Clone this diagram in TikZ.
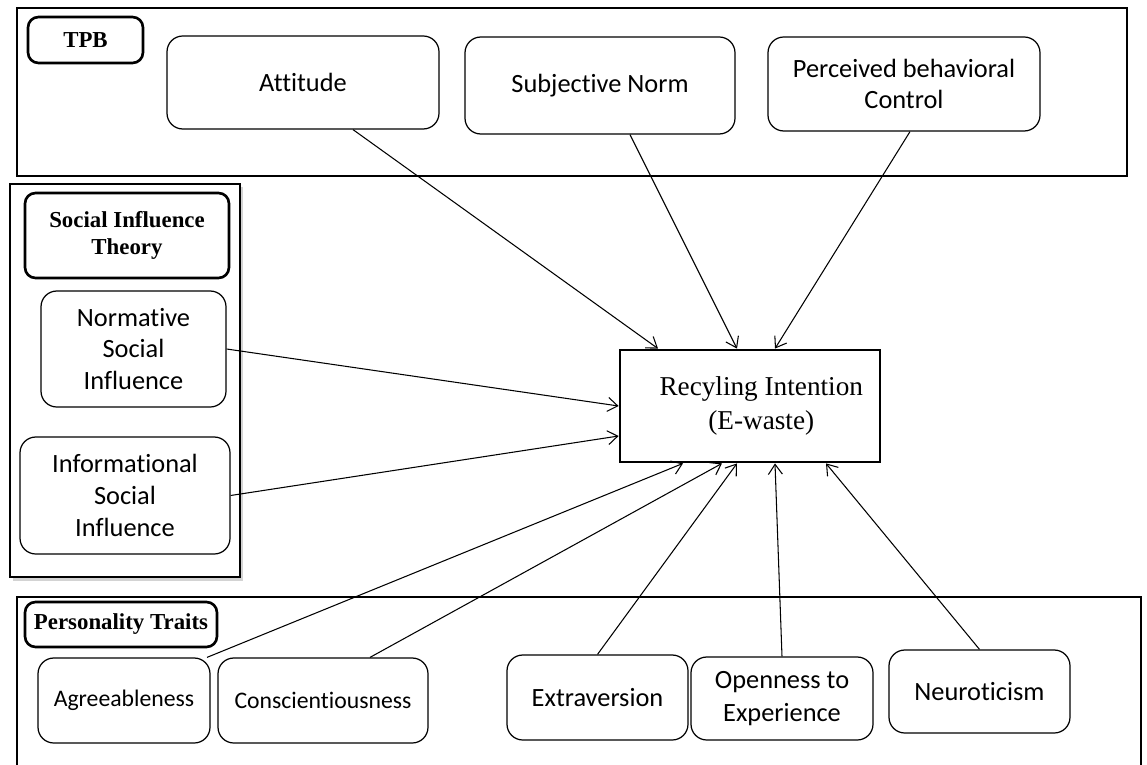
\documentclass[tikz,border=0pt]{standalone}
\usepackage{fontspec}
\setmainfont{Liberation Serif}
\newfontfamily\calibri[Ligatures=NoCommon]{Carlito}
\usetikzlibrary{arrows.meta,shadows}

\begin{document}
\begin{tikzpicture}[
    frame/.style={draw, line width=1.6pt},
    tag/.style={draw, line width=1.5pt, rounded corners=6pt, font=\bfseries\fontsize{13}{15}\selectfont, align=center, inner sep=0pt},
    item/.style={draw, line width=0.7pt, rounded corners=9pt, font=\calibri\fontsize{15}{18}\selectfont, align=center, inner sep=0pt},
    link/.style={line width=0.6pt, -{Straight Barb[length=2mm,width=2.8mm]}}
]
    \useasboundingbox (0,0) rectangle (22.94,-15.3);

    % TPB block
    \draw[frame] (0.34,-0.16) rectangle (22.54,-3.52);
    \node[tag, minimum width=2.3cm, minimum height=0.92cm] (tpb) at (1.71,-0.8) {TPB};
    \node[item, minimum width=5.44cm, minimum height=1.86cm] (att) at (6.06,-1.65) {Attitude};
    \node[item, minimum width=5.4cm, minimum height=1.94cm] (sn) at (12.0,-1.71) {Subjective Norm};
    \node[item, minimum width=5.44cm, minimum height=1.88cm] (pbc) at (18.08,-1.68) {Perceived behavioral\\Control};

    % Social influence block
    \draw[frame, fill=white, drop shadow={shadow xshift=0.05cm, shadow yshift=-0.07cm, opacity=0.35}] (0.2,-3.68) rectangle (4.8,-11.54);
    \node[tag, minimum width=4.08cm, minimum height=1.7cm] (sit) at (2.54,-4.71) {Social Influence\\Theory};
    \node[item, minimum width=3.7cm, minimum height=2.32cm] (nsi) at (2.67,-6.98) {Normative\\Social\\Influence};
    \node[item, minimum width=4.2cm, minimum height=2.34cm] (isi) at (2.5,-9.91) {Informational\\Social\\Influence};

    % Outcome
    \node[draw, line width=1.6pt, minimum width=5.2cm, minimum height=2.24cm, align=center,
          font=\fontsize{15.5}{19}\selectfont] (rec) at (15.0,-8.12) {\hspace*{0.45cm}Recyling Intention\\\hspace*{0.45cm}(E-waste)};

    % Personality traits block
    \draw[frame] (0.34,-15.4) -- (0.34,-11.94) -- (22.82,-11.94) -- (22.82,-15.4);
    \node[tag, minimum width=3.84cm, minimum height=0.9cm] (pt) at (2.42,-12.49) {Personality Traits};
    \node[item, minimum width=3.44cm, minimum height=1.7cm, font=\calibri\fontsize{13.5}{16}\selectfont] (agr) at (2.48,-14.01) {Agreeableness};
    \node[item, minimum width=4.2cm, minimum height=1.7cm, font=\calibri\fontsize{13.5}{16}\selectfont] (con) at (6.46,-14.01) {Conscientiousness};
    \node[item, minimum width=3.62cm, minimum height=1.7cm] (ext) at (11.95,-13.95) {Extraversion};
    \node[item, minimum width=3.64cm, minimum height=1.66cm, font=\calibri\fontsize{15}{19}\selectfont] (ope) at (15.64,-13.97) {Openness to\\Experience};
    \node[item, minimum width=3.62cm, minimum height=1.66cm] (neu) at (19.59,-13.83) {Neuroticism};

    % Arrows
    \draw[link] ([xshift=1cm]att.south) -- ([xshift=-1.84cm]rec.north);
    \draw[link] ([xshift=0.6cm]sn.south) -- ([xshift=-0.26cm]rec.north);
    \draw[link] ([xshift=0.12cm]pbc.south) -- ([xshift=0.5cm]rec.north);
    \draw[link] (nsi.east) -- (rec.west);
    \draw[link] (isi.east) -- ([yshift=-0.6cm]rec.west);
    \draw[link] ([xshift=1.66cm]agr.north) -- ([xshift=-1.34cm]rec.south);
    \draw[link] ([xshift=0.94cm]con.north) -- ([xshift=-0.56cm]rec.south);
    \draw[link] (ext.north) -- ([xshift=-0.26cm]rec.south);
    \draw[link] (ope.north) -- ([xshift=0.5cm]rec.south);
    \draw[link] (neu.north) -- ([xshift=1.52cm]rec.south);
\end{tikzpicture}
\end{document}
